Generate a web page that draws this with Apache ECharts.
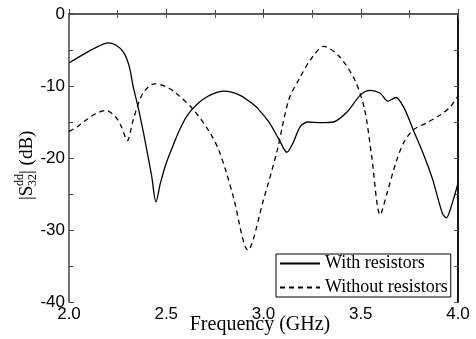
<!DOCTYPE html>
<html>
<head>
<meta charset="utf-8">
<script src="https://cdn.jsdelivr.net/npm/echarts@6/dist/echarts.min.js"></script>
<style>html,body{margin:0;padding:0;background:#fff}#c{width:476px;height:339px}</style>
</head>
<body>
<div id="c"></div>
<script>
const freqWith = [2.0,2.087,2.15,2.2,2.24,2.28,2.31,2.33,2.355,2.38,2.4,2.425,2.447,2.47,2.5,2.53,2.57,2.61,2.66,2.71,2.76,2.8,2.84,2.88,2.93,2.97,3.03,3.085,3.12,3.15,3.19,3.23,3.29,3.36,3.43,3.5,3.55,3.6,3.64,3.68,3.72,3.77,3.82,3.87,3.92,3.94,3.97,4.0];
const sWith = [-6.8,-5.4,-4.5,-4.0,-4.3,-5.3,-7.3,-10.1,-12.9,-16.1,-18.9,-22.5,-26.1,-23.5,-20.7,-18.6,-16.0,-14.0,-12.5,-11.5,-10.9,-10.7,-10.9,-11.3,-12.2,-13.1,-15.1,-17.7,-19.2,-18.0,-15.6,-15.0,-15.1,-15.0,-13.6,-11.2,-10.6,-11.0,-12.1,-11.6,-12.9,-16.1,-19.3,-23.0,-27.7,-28.3,-26.3,-23.5];
const freqWithout = [2.0,2.04,2.09,2.14,2.19,2.24,2.27,2.3,2.33,2.38,2.44,2.5,2.55,2.64,2.725,2.77,2.81,2.845,2.92,3.0,3.07,3.13,3.19,3.24,3.31,3.39,3.47,3.52,3.555,3.6,3.635,3.68,3.72,3.77,3.84,3.91,3.96,4.0];
const sWithout = [-16.3,-15.7,-14.7,-13.8,-13.4,-14.3,-15.7,-17.6,-14.7,-11.0,-9.7,-10.1,-11.0,-13.3,-16.5,-18.9,-22.1,-25.4,-32.8,-25.8,-19.0,-11.9,-8.7,-6.4,-4.5,-5.9,-9.2,-13.3,-19.5,-27.9,-24.9,-20.7,-17.9,-16.1,-15.1,-14.0,-12.9,-11.4];
const seriesNames = ['With resistors','Without resistors'];
const xLabel = 'Frequency (GHz)';

const chart = echarts.init(document.getElementById('c'), null, {renderer:'canvas'});
const tickFont = {fontFamily:'Liberation Sans, Arial, sans-serif', fontSize:17, color:'#000'};
const option = {
  animation:false,
  grid:{left:69, right:18, top:14, bottom:37},
  legend:{
    data:seriesNames, orient:'vertical', left:276, top:254,
    itemWidth:40, itemHeight:14, itemGap:5, padding:[0,3,0,3],
    borderColor:'#000', borderWidth:1, backgroundColor:'#fff',
    itemStyle:{opacity:0},
    textStyle:{fontFamily:'Liberation Serif, Times New Roman, serif', fontSize:18, color:'#000', lineHeight:19}
  },
  xAxis:[
    {type:'value', min:2, max:4, interval:0.5, position:'bottom',
     axisLine:{lineStyle:{color:'#444', width:1.5}},
     axisTick:{inside:true, length:5, lineStyle:{color:'#444'}},
     minorTick:{show:true, splitNumber:2, length:4, lineStyle:{color:'#444'}},
     splitLine:{show:false},
     axisLabel:Object.assign({margin:4, formatter:v=>v.toFixed(1)}, tickFont)},
    {type:'value', min:2, max:4, interval:0.25, position:'top',
     axisLine:{lineStyle:{color:'#555', width:1.5}},
     axisTick:{inside:true, length:4, lineStyle:{color:'#555'}},
     axisLabel:{show:false}, splitLine:{show:false}}
  ],
  yAxis:[
    {type:'value', min:-40, max:0, interval:10, position:'left',
     axisLine:{lineStyle:{color:'#444', width:1.5}},
     axisTick:{inside:true, length:5, lineStyle:{color:'#444'}},
     minorTick:{show:true, splitNumber:2, length:4, lineStyle:{color:'#444'}},
     splitLine:{show:false},
     axisLabel:Object.assign({margin:4}, tickFont)},
    {type:'value', min:-40, max:0, interval:5, position:'right',
     axisLine:{lineStyle:{color:'#000', width:1.8}},
     axisTick:{inside:true, length:4, lineStyle:{color:'#555'}},
     axisLabel:{show:false}, splitLine:{show:false}}
  ],
  series:[
    {name:seriesNames[0], type:'line', smooth:0.3, symbol:'none', xAxisIndex:0, yAxisIndex:0,
     data:freqWith.map((f,i)=>[f,sWith[i]]),
     lineStyle:{color:'#000', width:1.3}, itemStyle:{color:'#000'}},
    {name:seriesNames[1], type:'line', smooth:0.3, symbol:'none', xAxisIndex:0, yAxisIndex:0,
     data:freqWithout.map((f,i)=>[f,sWithout[i]]),
     lineStyle:{color:'#000', width:1.3, type:[5,4]}, itemStyle:{color:'#000'}}
  ],
  graphic:[
    {type:'text', style:{text:xLabel, x:260, y:325, textAlign:'center', textVerticalAlign:'middle',
      font:'20px "Liberation Serif", "Times New Roman", serif', fill:'#000'}},
    {type:'group', x:27, y:166, rotation:Math.PI/2, children:[
      {type:'text', x:-34, y:0, style:{text:'|S', textAlign:'left', textVerticalAlign:'middle', font:'19px "Liberation Serif", serif', fill:'#000'}},
      {type:'text', x:-20, y:-7, style:{text:'dd', textAlign:'left', textVerticalAlign:'middle', font:'12px "Liberation Serif", serif', fill:'#000'}},
      {type:'text', x:-20, y:6, style:{text:'32', textAlign:'left', textVerticalAlign:'middle', font:'12px "Liberation Serif", serif', fill:'#000'}},
      {type:'text', x:-8, y:0, style:{text:'| (dB)', textAlign:'left', textVerticalAlign:'middle', font:'19px "Liberation Serif", serif', fill:'#000'}}
    ]}
  ]
};
chart.setOption(option);
</script>
</body>
</html>
